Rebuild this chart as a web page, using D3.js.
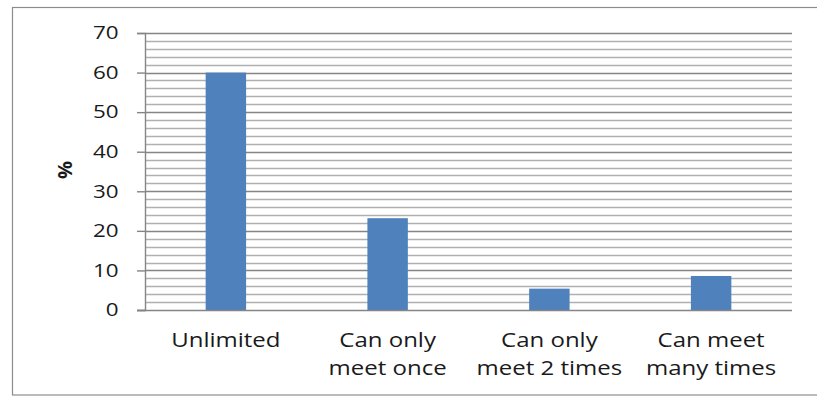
<!DOCTYPE html>
<html>
<head>
<meta charset="utf-8">
<script src="https://cdn.jsdelivr.net/npm/d3@7"></script>
<style>
  html, body { margin: 0; padding: 0; background: #fff; }
  svg { display: block; }
  text { font-family: "Open Sans", sans-serif; fill: #1a1a1a; }
</style>
</head>
<body>
<svg id="chart" width="817" height="397"></svg>
<script>
// Share of respondents by meeting rule (%)
const categories = [["Unlimited"], ["Can only", "meet once"], ["Can only", "meet 2 times"], ["Can meet", "many times"]];
const categoryKeys = ["Unlimited", "Can only meet once", "Can only meet 2 times", "Can meet many times"];
const values = [60, 23.2, 5.4, 8.6];
const yTicks = [0, 10, 20, 30, 40, 50, 60, 70];
const yMinorTicks = d3.range(0, 71, 2);

const svg = d3.select("#chart");

// outer chart frame
svg.append("rect")
  .attr("x", 12.5).attr("y", 7.5)
  .attr("width", 830).attr("height", 387.5)
  .attr("fill", "none").attr("stroke", "#8c8c8c").attr("stroke-width", 1.2);

const plot = { left: 145, right: 792, top: 33, bottom: 310 };

const x = d3.scaleBand()
  .domain(categoryKeys)
  .range([plot.left, plot.right])
  .paddingInner(0.75).paddingOuter(0.375);

const y = d3.scaleLinear().domain([0, 70]).range([plot.bottom, plot.top]);

// minor gridlines
svg.append("g").selectAll("line")
  .data(yMinorTicks.filter(v => v % 10 !== 0))
  .join("line")
  .attr("x1", plot.left).attr("x2", plot.right)
  .attr("y1", d => Math.round(y(d)) + 0.5).attr("y2", d => Math.round(y(d)) + 0.5)
  .attr("stroke", "#b0b0b0").attr("stroke-width", 1.3);

// major gridlines
svg.append("g").selectAll("line")
  .data(yTicks.filter(v => v > 0))
  .join("line")
  .attr("x1", plot.left).attr("x2", plot.right)
  .attr("y1", d => Math.round(y(d)) + 0.5).attr("y2", d => Math.round(y(d)) + 0.5)
  .attr("stroke", "#858585").attr("stroke-width", 1.4);

// y axis line and ticks
const yAxis = svg.append("g")
  .attr("transform", `translate(${plot.left},0)`)
  .call(d3.axisLeft(y).tickValues(yTicks).tickSize(8).tickFormat(""));
yAxis.select(".domain").attr("stroke", "#858585").attr("stroke-width", 1.4);
yAxis.selectAll(".tick line").attr("stroke", "#858585").attr("stroke-width", 1.4);

// y tick labels (wide face)
svg.append("g").selectAll("text")
  .data(yTicks)
  .join("text")
  .attr("transform", d => `translate(118.5,${y(d)}) scale(1.28,1)`)
  .attr("text-anchor", "end")
  .attr("dy", "0.36em")
  .attr("font-size", 17.5)
  .text(d => d);

// bars
svg.append("g").selectAll("rect")
  .data(values)
  .join("rect")
  .attr("x", (d, i) => x(categoryKeys[i]))
  .attr("width", x.bandwidth())
  .attr("y", d => y(d))
  .attr("height", d => y(0) - y(d))
  .attr("fill", "#4f81bd");

// x axis baseline
svg.append("line")
  .attr("x1", plot.left - 8).attr("x2", plot.right)
  .attr("y1", y(0) + 0.5).attr("y2", y(0) + 0.5)
  .attr("stroke", "#858585").attr("stroke-width", 1.4);

// category labels
const labels = svg.append("g").selectAll("text")
  .data(categories)
  .join("text")
  .attr("text-anchor", "middle")
  .attr("font-size", 20)
  .attr("transform", (d, i) => `translate(${x(categoryKeys[i]) + x.bandwidth() / 2},347) scale(1.2,1)`);
labels.selectAll("tspan")
  .data(d => d)
  .join("tspan")
  .attr("x", 0)
  .attr("dy", (d, i) => i === 0 ? 0 : 28)
  .text(d => d);

// y axis title
svg.append("text")
  .attr("transform", "translate(72,170) rotate(-90)")
  .attr("text-anchor", "middle")
  .attr("font-size", 20)
  .attr("font-weight", "bold")
  .text("%");
</script>
</body>
</html>
